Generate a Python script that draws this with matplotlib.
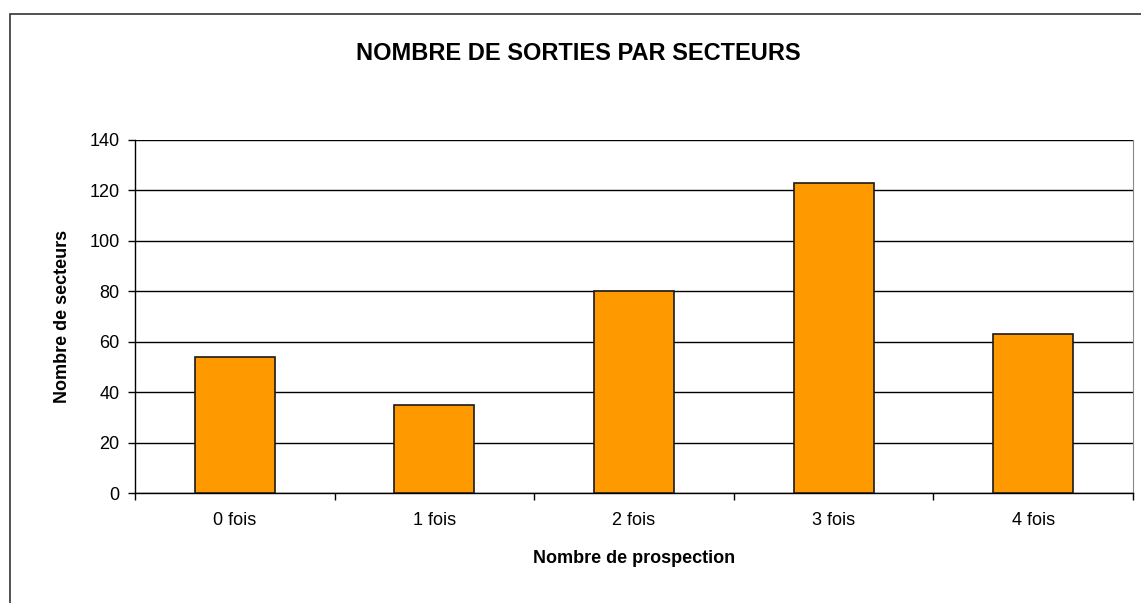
import matplotlib
matplotlib.use('Agg')
import matplotlib.pyplot as plt
from matplotlib.patches import Rectangle
import numpy as np

categories = ["0 fois", "1 fois", "2 fois", "3 fois", "4 fois"]
secteurs = [54, 35, 80, 123, 63]
yticks = [0, 20, 40, 60, 80, 100, 120, 140]

plt.rcParams['font.family'] = ['Liberation Sans', 'DejaVu Sans']

W, H = 1141, 603
fig = plt.figure(figsize=(W / 100, H / 100), dpi=100)
ax = fig.add_axes([135 / W, 1 - 493 / H, (1133 - 135) / W, (493 - 140) / H])

# outer chart frame (Excel style, cut at right/bottom)
fig.patches.append(Rectangle((10 / W, -0.05), 1.1, 1 - 14 / H + 0.05,
                             transform=fig.transFigure, fill=False,
                             edgecolor='#333333', linewidth=1.2))

x = np.arange(len(categories))
ax.bar(x, secteurs, width=0.4, color='#FF9900', edgecolor='#1a1a1a',
       linewidth=1.2, zorder=3)

ax.set_xlim(-0.5, len(categories) - 0.5)
ax.set_ylim(0, 140)
ax.set_yticks(yticks)
ax.set_yticklabels([str(v) for v in yticks])
ax.set_xticks(x)
ax.set_xticklabels(categories)
ax.set_xticks(np.arange(-0.5, len(categories)), minor=True)

ax.yaxis.grid(True, color='black', linewidth=1.0, zorder=0)
ax.tick_params(axis='y', direction='out', length=5, width=1, labelsize=13, pad=6)
ax.tick_params(axis='x', which='major', length=0, labelsize=13, pad=14)
ax.tick_params(axis='x', which='minor', direction='out', length=5, width=1)

for s in ['left', 'bottom']:
    ax.spines[s].set_color('black')
    ax.spines[s].set_linewidth(1.0)
ax.spines['right'].set_color('#888888')
ax.spines['top'].set_visible(False)

ax.set_ylabel("Nombre de secteurs", fontsize=13, fontweight='bold', labelpad=13)
ax.set_xlabel("Nombre de prospection", fontsize=13, fontweight='bold', labelpad=15)
fig.text(578 / W, 1 - 53 / H, "NOMBRE DE SORTIES PAR SECTEURS",
         fontsize=17, fontweight='bold', ha='center', va='center')

fig.savefig('out.png', dpi=100)
plt.close(fig)
